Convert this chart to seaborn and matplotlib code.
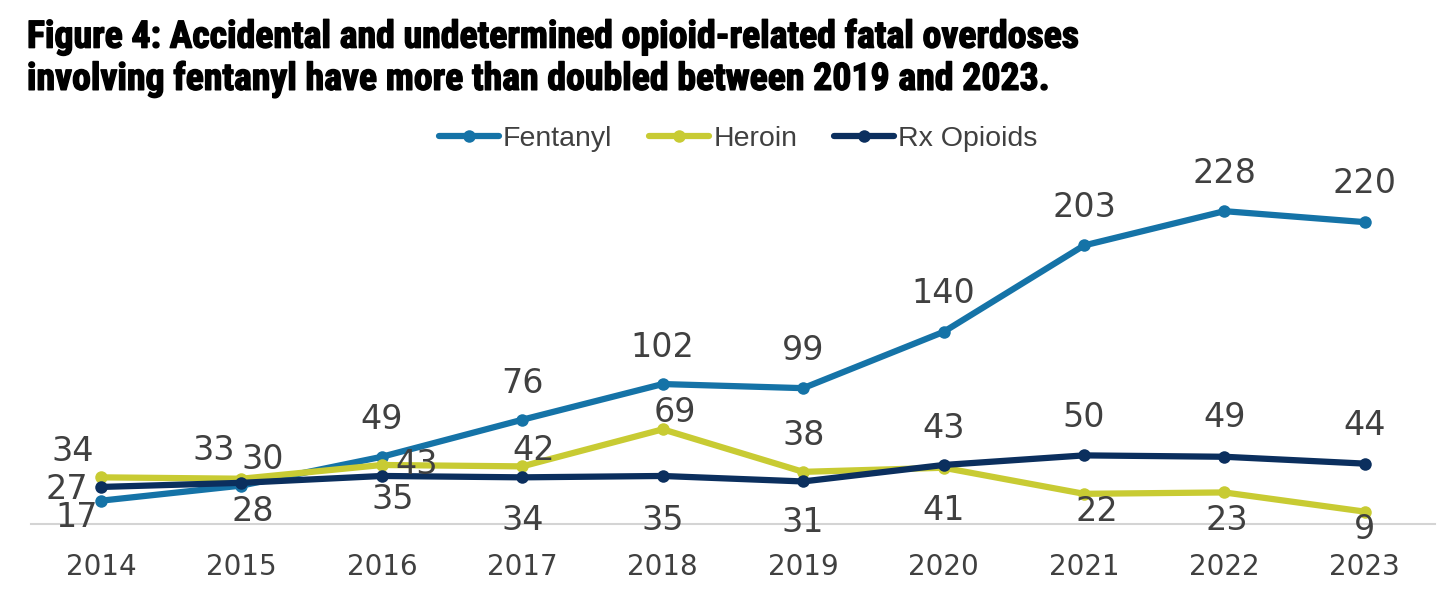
import pandas as pd
import matplotlib.pyplot as plt
import matplotlib.patheffects as pe
from matplotlib import font_manager
from matplotlib.lines import Line2D
import seaborn as sns

years = [2014, 2015, 2016, 2017, 2018, 2019, 2020, 2021, 2022, 2023]
fentanyl = [17, 28, 49, 76, 102, 99, 140, 203, 228, 220]
heroin = [34, 33, 43, 42, 69, 38, 41, 22, 23, 9]
rx_opioids = [27, 30, 35, 34, 35, 31, 43, 50, 49, 44]

series_names = ['Fentanyl', 'Heroin', 'Rx Opioids']
colors = {'Fentanyl': '#1573A7', 'Heroin': '#C8CB33', 'Rx Opioids': '#0B2F5E'}

title_lines = [
    'Figure 4: Accidental and undetermined opioid-related fatal overdoses',
    'involving fentanyl have more than doubled between 2019 and 2023.',
]

# label offsets in pixels (dx, dy) relative to each point
label_offsets = {
    'Fentanyl': [(-24, -17), (11, -26), (0, 37), (0, 36), (0, 37),
                 (0, 38), (0, 38), (0, 38), (0, 38), (0, 39)],
    'Heroin': [(-28, 26), (-28, 28), (35, 0), (11, 16), (12, 17),
               (0, 36), (0, -43), (13, -18), (2, -28), (0, -18)],
    'Rx Opioids': [(-34, -3), (21, 23), (11, -24), (0, -43), (0, -45),
                   (0, -41), (0, 36), (0, 38), (0, 39), (0, 38)],
}


def pick_title_font():
    # prefer a narrow bold face, like the original's condensed gothic
    fonts = font_manager.fontManager.ttflist
    names = {f.name for f in fonts}
    for cand in ['Liberation Sans Narrow', 'Roboto Condensed', 'Open Sans Condensed',
                 'Noto Sans Condensed', 'DejaVu Sans Condensed']:
        if cand in names:
            return {'family': cand, 'stretch': 'normal'}
    for f in fonts:
        if f.stretch in ('condensed', 'semi-condensed', 'extra-condensed') and f.weight in ('bold', 700):
            return {'family': f.name, 'stretch': f.stretch}
    for cand in ['Roboto', 'Liberation Sans', 'Lato']:
        if cand in names:
            return {'family': cand, 'stretch': 'normal'}
    return {'family': 'DejaVu Sans', 'stretch': 'normal'}


df = pd.DataFrame({
    'year': years * 3,
    'deaths': fentanyl + heroin + rx_opioids,
    'drug': [n for n in series_names for _ in years],
})

sns.set_theme(style='white')
plt.rcParams['font.family'] = ['DejaVu Sans']

fig = plt.figure(figsize=(14.56, 6.11), dpi=100)
ax = fig.add_axes([0.0212, 0.1424, 0.9644, 0.5614])

sns.lineplot(data=df, x='year', y='deaths', hue='drug', hue_order=series_names,
             palette=colors, marker='o', markersize=9, markeredgewidth=0,
             linewidth=4.5, legend=False, ax=ax)

text_color = '#404040'
for name in series_names:
    sub = df[df['drug'] == name]
    for (x, y), off in zip(zip(sub['year'], sub['deaths']), label_offsets[name]):
        ax.annotate(str(y), (x, y), xytext=off, textcoords='offset pixels',
                    ha='center', va='center', fontsize=24, color=text_color)

ax.set_xlim(2013.5, 2023.5)
ax.set_ylim(0, 250)
ax.set_xticks(years)
ax.set_xticklabels([str(y) for y in years])
ax.set_yticks([])
ax.set_xlabel('')
ax.set_ylabel('')
ax.tick_params(axis='x', length=0, pad=21, labelsize=20, labelcolor=text_color)
for side in ['left', 'right', 'top']:
    ax.spines[side].set_visible(False)
ax.spines['bottom'].set_color('#D4D4D4')
ax.spines['bottom'].set_linewidth(1.5)

handles = [Line2D([0], [0], color=colors[n], lw=4.5, marker='o', markersize=9,
                  markeredgewidth=0) for n in series_names]
fig.legend(handles, series_names, loc='center', bbox_to_anchor=(0.507, 0.7725),
           ncol=3, frameon=False, handlelength=2.1, handletextpad=0.15,
           columnspacing=1.3, prop={'family': ['Liberation Sans', 'DejaVu Sans'], 'size': 20.5},
           labelcolor=text_color)

tf = pick_title_font()
title_font = {'family': [tf['family'], 'DejaVu Sans'], 'fontstretch': tf['stretch'],
              'weight': 'bold', 'size': 23}
heavy = [pe.withStroke(linewidth=1.0, foreground='black')]
t1 = fig.text(0.0185, 0.922, title_lines[0], ha='left', va='baseline', color='black',
              path_effects=heavy, **title_font)
t2 = fig.text(0.0185, 0.853, title_lines[1], ha='left', va='baseline', color='black',
              path_effects=heavy, **title_font)

# size the title so the first line spans the same width as the original
renderer = fig.canvas.get_renderer()
width = t1.get_window_extent(renderer).width
size = 23 * 1056 / width
t1.set_fontsize(size)
t2.set_fontsize(size)

fig.savefig('out.png', dpi=100, facecolor='white')
